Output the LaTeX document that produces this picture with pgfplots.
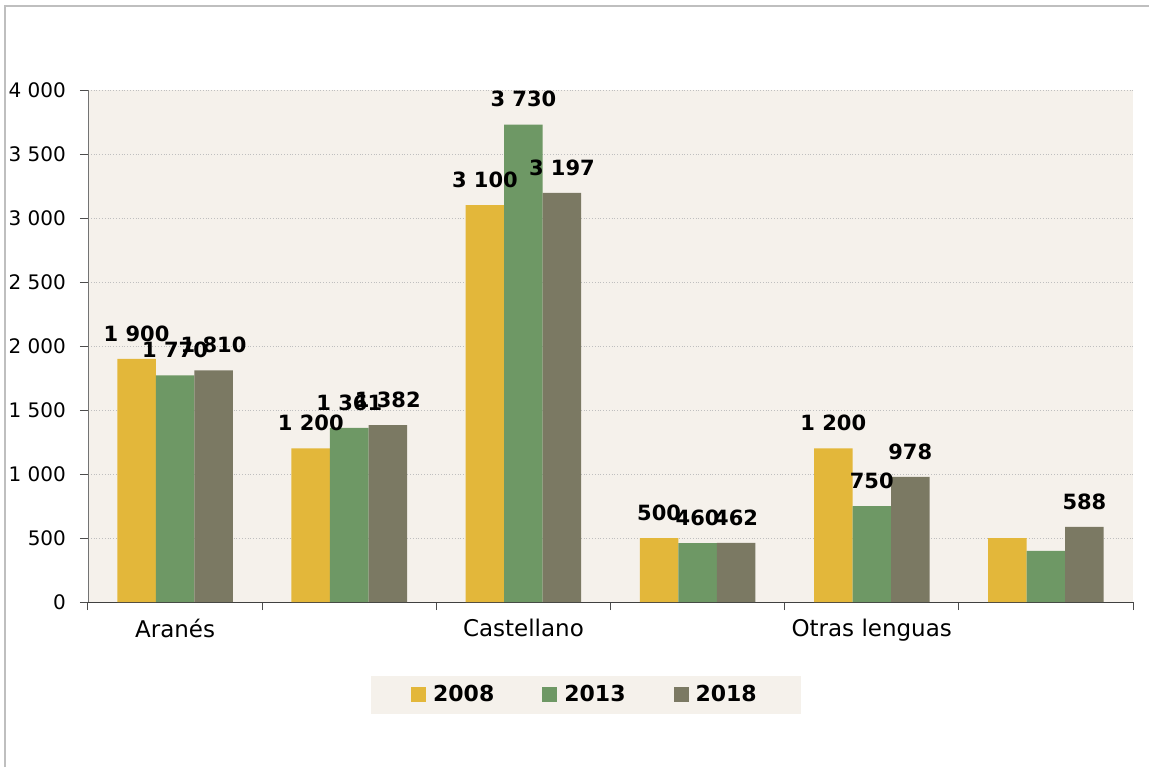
\documentclass[border=0pt]{standalone}
\usepackage{pgfplots}
\pgfplotsset{compat=1.18}
\usepackage{pgfplotstable}
\usepackage{fontspec}
\setmainfont{DejaVu Sans}
\definecolor{cY}{RGB}{227,183,58}
\definecolor{cG}{RGB}{110,152,101}
\definecolor{cB}{RGB}{123,121,99}
\definecolor{bgc}{RGB}{245,241,235}
\definecolor{frm}{RGB}{191,191,191}
\pgfplotstableread{
x y08 y13 y18 s08 s13 s18
0 1900 1770 1810 1 1 1
1 1200 1361 1382 1 1 1
2 3100 3730 3197 1 1 1
3 500 460 462 1 1 1
4 1200 750 978 1 1 1
5 500 400 588 0 0 1
}\datatab
\begin{document}
\begin{tikzpicture}
\path[use as bounding box] (0pt,0pt) rectangle (574.5pt,-383.5pt);
\draw[frm, line width=1pt] (2.5pt,-383.5pt) -- (2.5pt,-3pt) -- (574.5pt,-3pt);
\begin{axis}[
  at={(44pt,-301pt)}, anchor=south west,
  width=522.5pt, height=256pt, scale only axis,
  xmin=-0.5, xmax=5.5, ymin=0, ymax=4000,
  ybar=0pt, bar width=19.25pt,
  axis background/.style={fill=bgc},
  axis x line*=bottom, axis y line*=left,
  axis line style={-},
  x axis line style={draw=black!75},
  y axis line style={draw=black!55},
  ytick distance=500,
  xtick={-0.5,0.5,...,5.5}, xticklabels={},
  extra x ticks={0,2,4},
  extra x tick labels={Aranés,Castellano,Otras lenguas},
  extra x tick style={major tick length=0pt, xmajorgrids=false},
  tick align=outside, major tick length=4pt,
  tick style={black!70, line width=0.5pt},
  ymajorgrids, grid style={densely dotted, black!25, line width=0.5pt},
  /pgf/number format/assume math mode=true,
  /pgf/number format/1000 sep={\ },
  yticklabel style={font=\fontsize{10}{12}\selectfont, xshift=-3.5pt},
  xticklabel style={font=\fontsize{11.5}{13}\selectfont, yshift=-5pt},
  nodes near coords={\ifdim\showlbl pt>0.5pt \pgfmathprintnumber{\pgfplotspointmeta}\fi},
  every node near coord/.append style={font=\bfseries\fontsize{10.5}{12}\selectfont, anchor=south, inner sep=0pt, yshift=8.5pt, text=black},
  legend columns=3,
  legend style={at={(0.4765,-0.1816)}, anchor=center, fill=bgc, draw=none,
    inner xsep=20pt, inner ysep=2.5pt,
    font=\bfseries\fontsize{11}{13}\selectfont,
    /tikz/every even column/.append style={column sep=22pt}},
  legend image code/.code={\fill[#1] (0pt,-3.75pt) rectangle (7.5pt,3.75pt); \path (9pt,0pt);},
]
\addplot[fill=cY, draw=none, visualization depends on={\thisrow{s08}\as\showlbl}] table[x=x,y=y08]{\datatab};
\addplot[fill=cG, draw=none, visualization depends on={\thisrow{s13}\as\showlbl}] table[x=x,y=y13]{\datatab};
\addplot[fill=cB, draw=none, visualization depends on={\thisrow{s18}\as\showlbl}] table[x=x,y=y18]{\datatab};
\legend{2008,2013,2018}
\end{axis}
\end{tikzpicture}
\end{document}
